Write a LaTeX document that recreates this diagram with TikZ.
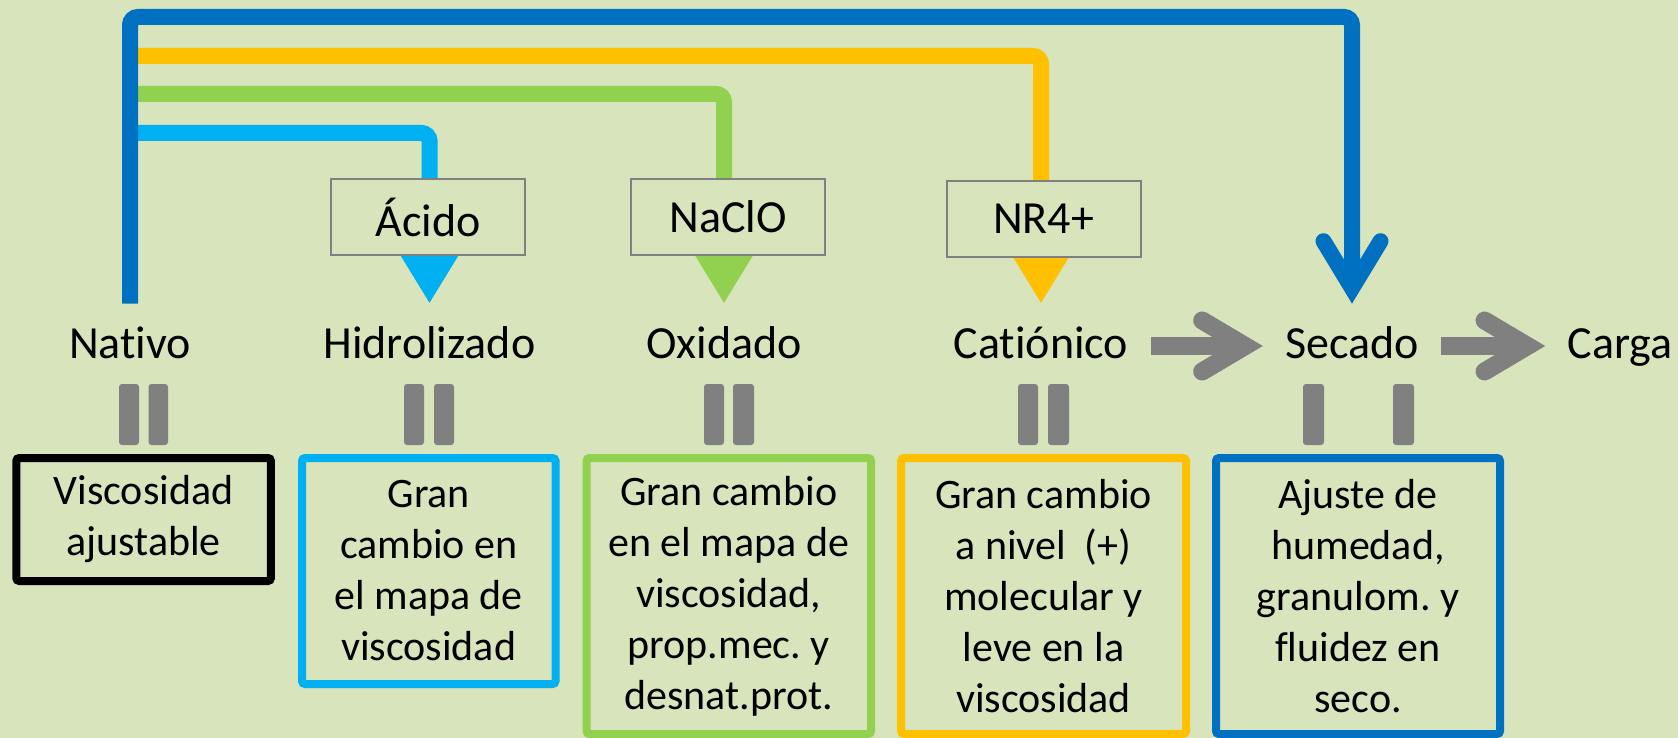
\documentclass[tikz,border=0pt]{standalone}
\usepackage{fontspec}
\setmainfont{Carlito}[Ligatures=NoCommon]
\usetikzlibrary{arrows.meta}
\definecolor{fondo}{HTML}{D8E4BC}
\definecolor{azul}{HTML}{0070C0}
\definecolor{celeste}{HTML}{00B0F0}
\definecolor{verde}{HTML}{92D050}
\definecolor{naranja}{HTML}{FFC000}
\definecolor{gris}{HTML}{808080}
\frenchspacing

\begin{document}
\begin{tikzpicture}[x=0.5pt,y=-0.5pt]
    \tikzset{etapa/.style = {font=\fontsize{23}{28}\selectfont, text height=16pt, text depth=4pt, inner sep=11pt, anchor=base}}
    \tikzset{reactivo/.style = {draw=gris, line width=1pt, fill=fondo, font=\fontsize{23}{28}\selectfont, minimum width=97pt, minimum height=38pt}}
    \tikzset{caja/.style = {draw, line width=4pt, rounded corners=1.5pt, align=center, font=\fontsize{21}{25.5}\selectfont, inner sep=0pt}}
    \tikzset{ruta/.style = {line width=8pt, rounded corners=4pt, -{Triangle[length=35pt,width=40pt]}}}
    \tikzset{secado/.style = {draw=azul, line width=8pt, rounded corners=4pt, -{Straight Barb[length=23.5pt,width=28.5pt,line cap=round,line join=miter]}}}
    \tikzset{paso/.style = {draw=gris, line width=9pt, -{Straight Barb[length=21.5pt,width=25.5pt,line cap=round,line join=miter]}}}
    \tikzset{barra/.style = {fill=gris, rounded corners=1.5pt}}

    \useasboundingbox (0,0) rectangle (1678,738);
    \fill[fondo] (0,0) rectangle (1678,738);

    % etapas
    \node[etapa] (nativo) at (130,358) {Nativo};
    \node[etapa] (hidro)  at (429.5,358) {Hidrolizado};
    \node[etapa] (oxid)   at (724,358) {Oxidado};
    \node[etapa] (cation) at (1041,358) {Catiónico};
    \node[etapa] (sec)    at (1352,358) {Secado};
    \node[etapa] (carga)  at (1620,358) {Carga};

    % rutas
    \draw[ruta, celeste] (nativo.north |- 0,133) -| (hidro.north);
    \draw[ruta, verde] (nativo.north |- 0,94) -| (oxid.north);
    \draw[ruta, naranja] (nativo.north |- 0,56) -| (cation.north);
    \draw[secado] (nativo.north) -- (nativo.north |- 0,17) -| (sec.north);

    % reactivos
    \node[reactivo] (acido) at (428,217) {Ácido};
    \node[reactivo] (naclo) at (728,217) {NaClO};
    \node[reactivo] (nr4)   at (1043.5,219) {NR4+};

    \draw[paso] (cation) -- (sec);
    \draw[paso] (sec) -- (carga);

    % barras
    \fill[barra] (119,384) rectangle (139,445);
    \fill[barra] (148.5,384) rectangle (168,445);
    \fill[barra] (404,384) rectangle (424,445);
    \fill[barra] (434,384) rectangle (454,445);
    \fill[barra] (704,384) rectangle (724,445);
    \fill[barra] (733,384) rectangle (754,445);
    \fill[barra] (1018,384) rectangle (1038,445);
    \fill[barra] (1048,384) rectangle (1069,445);
    \fill[barra] (1303,384) rectangle (1324,445);
    \fill[barra] (1393,384) rectangle (1414,445);

    % cajas
    \node[caja, draw=black, minimum width=127.35pt, minimum height=61.5pt] (visc) at (143.6,519.5) {Viscosidad\\ajustable};
    \node[caja, draw=celeste, minimum width=126.75pt, minimum height=113pt] (hidbox) at (428.75,571) {Gran\\cambio en\\el mapa de\\viscosidad};
    \node[caja, draw=verde, minimum width=142.25pt, minimum height=138pt] (oxbox) at (728.75,596) {Gran cambio\\en el mapa de\\viscosidad,\\prop.mec. y\\desnat.prot.};
    \node[caja, draw=naranja, minimum width=142.5pt, minimum height=138pt] (catbox) at (1043.5,596) {Gran cambio\\a nivel\ \ (+)\\molecular y\\leve en la\\viscosidad};
    \node[caja, draw=azul, minimum width=142pt, minimum height=138pt] (secbox) at (1358,596) {Ajuste de\\humedad,\\granulom. y\\fluidez en\\seco.};
\end{tikzpicture}
\end{document}
